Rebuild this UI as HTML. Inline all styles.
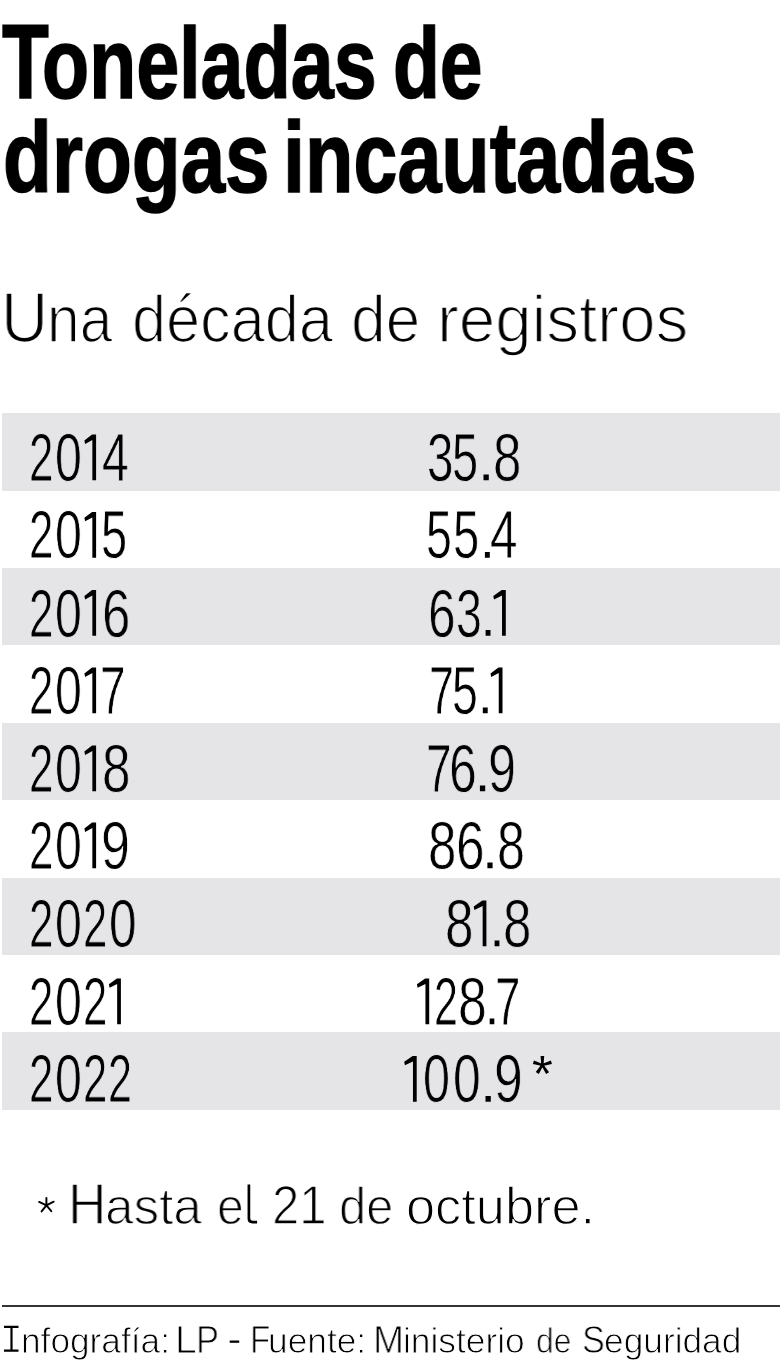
<!DOCTYPE html>
<html lang="es">
<head>
<meta charset="utf-8">
<title>Toneladas de drogas incautadas</title>
<style>
  html, body { margin: 0; padding: 0; background: #ffffff; }
  body { width: 780px; height: 1372px; position: relative; overflow: hidden;
         font-family: "Liberation Sans", sans-serif; color: #111111; }
  .t { position: absolute; white-space: nowrap; transform-origin: 0 0; line-height: 1; will-change: transform; }
  .g1 { position: absolute; overflow: visible; }
  .abs { position: absolute; }
  .dot { position: absolute; background: #000000; }
  .band { position: absolute; left: 1.8px; right: 0; height: 77.45px; background: #e5e5e8; }
  .rule { position: absolute; left: 2px; right: 0; top: 1305px; height: 2px; background: #333333; }
</style>
</head>
<body>
<div class="band" style="top:413.20px"></div>
<div class="band" style="top:568.00px"></div>
<div class="band" style="top:722.80px"></div>
<div class="band" style="top:877.60px"></div>
<div class="band" style="top:1032.40px"></div>
<div class="t" style="left:1.80px;top:9.20px;font-size:106.5px;font-weight:700;color:#000;-webkit-text-stroke:1.6px #000;transform:scaleX(0.7185)">T</div>
<div class="t" style="left:42.31px;top:13.20px;font-size:101px;font-weight:700;color:#000;-webkit-text-stroke:1.6px #000;transform:scaleX(0.7641)">oneladas</div>
<div class="t" style="left:393.12px;top:13.20px;font-size:101px;font-weight:700;color:#000;-webkit-text-stroke:1.6px #000;transform:scaleX(0.7589)">de</div>
<div class="t" style="left:2.63px;top:107.00px;font-size:101px;font-weight:700;color:#000;-webkit-text-stroke:1.6px #000;transform:scaleX(0.7915)">drogas</div>
<div class="t" style="left:283.30px;top:107.00px;font-size:101px;font-weight:700;color:#000;-webkit-text-stroke:1.6px #000;transform:scaleX(0.7838)">incautadas</div>
<div class="t" style="left:0.65px;top:283.00px;font-size:70.5px;font-weight:400;color:#000000;-webkit-text-stroke:1.7px #fff;transform:scaleX(0.9256)">U</div>
<div class="t" style="left:47.12px;top:285.00px;font-size:67px;font-weight:400;color:#000000;-webkit-text-stroke:1.7px #fff;transform:scaleX(0.8768)">na</div>
<div class="t" style="left:132.24px;top:285.00px;font-size:67px;font-weight:400;color:#000000;-webkit-text-stroke:1.7px #fff;transform:scaleX(0.9140)">década</div>
<div class="t" style="left:351.28px;top:285.00px;font-size:67px;font-weight:400;color:#000000;-webkit-text-stroke:1.7px #fff;transform:scaleX(0.9299)">de</div>
<div class="t" style="left:436.61px;top:285.00px;font-size:67px;font-weight:400;color:#000000;-webkit-text-stroke:1.7px #fff;transform:scaleX(0.9779)">registros</div>
<div class="t" style="left:67.92px;top:1175.00px;font-size:58px;font-weight:400;color:#000000;-webkit-text-stroke:1.3px #fff;transform:scaleX(0.9161)">H</div>
<div class="t" style="left:105.14px;top:1180.00px;font-size:52px;font-weight:400;color:#000000;-webkit-text-stroke:1.3px #fff;transform:scaleX(0.9851)">asta</div>
<div class="t" style="left:216.72px;top:1180.00px;font-size:52px;font-weight:400;color:#000000;-webkit-text-stroke:1.3px #fff;transform:scaleX(0.9261)">e</div>
<div class="t" style="left:271.92px;top:1178.00px;font-size:55px;font-weight:400;color:#000000;-webkit-text-stroke:1.3px #fff;transform:scaleX(0.8927)">21</div>
<div class="t" style="left:339.49px;top:1180.00px;font-size:52px;font-weight:400;color:#000000;-webkit-text-stroke:1.3px #fff;transform:scaleX(0.9365)">de</div>
<div class="t" style="left:405.98px;top:1180.00px;font-size:52px;font-weight:400;color:#000000;-webkit-text-stroke:1.3px #fff;transform:scaleX(1.0067)">octubre.</div>
<div class="t" style="left:20.68px;top:1323.30px;font-size:35px;font-weight:400;color:#000000;-webkit-text-stroke:0.9px #fff;transform:scaleX(1.0071)">nfografía:</div>
<div class="t" style="left:175.15px;top:1321.30px;font-size:38.7px;font-weight:400;color:#000000;-webkit-text-stroke:0.9px #fff;transform:scaleX(1.0125)">L</div>
<div class="t" style="left:196.44px;top:1321.30px;font-size:38.7px;font-weight:400;color:#000000;-webkit-text-stroke:0.9px #fff;transform:scaleX(0.8895)">P</div>
<div class="t" style="left:249.68px;top:1321.30px;font-size:38.7px;font-weight:400;color:#000000;-webkit-text-stroke:0.9px #fff;transform:scaleX(0.8556)">F</div>
<div class="t" style="left:268.47px;top:1323.30px;font-size:35px;font-weight:400;color:#000000;-webkit-text-stroke:0.9px #fff;transform:scaleX(1.0088)">uente:</div>
<div class="t" style="left:373.36px;top:1321.30px;font-size:38.7px;font-weight:400;color:#000000;-webkit-text-stroke:0.9px #fff;transform:scaleX(0.9600)">M</div>
<div class="t" style="left:403.17px;top:1323.30px;font-size:35px;font-weight:400;color:#000000;-webkit-text-stroke:0.9px #fff;transform:scaleX(1.0095)">inisterio</div>
<div class="t" style="left:536.49px;top:1323.30px;font-size:35px;font-weight:400;color:#000000;-webkit-text-stroke:0.9px #fff;transform:scaleX(0.9057)">de</div>
<div class="t" style="left:581.95px;top:1321.30px;font-size:38.7px;font-weight:400;color:#000000;-webkit-text-stroke:0.9px #fff;transform:scaleX(0.8850)">S</div>
<div class="t" style="left:604.18px;top:1323.30px;font-size:35px;font-weight:400;color:#000000;-webkit-text-stroke:0.9px #fff;transform:scaleX(1.0084)">eguridad</div>
<div class="t" style="left:29.23px;top:423.00px;font-size:68.2px;font-weight:400;color:#000000;-webkit-text-stroke:0.8px #e5e5e8;transform:scaleX(0.6433)">2</div>
<div class="t" style="left:54.68px;top:423.00px;font-size:68.2px;font-weight:400;color:#000000;-webkit-text-stroke:0.8px #e5e5e8;transform:scaleX(0.7063)">0</div>
<div class="t" style="left:101.89px;top:423.00px;font-size:68.2px;font-weight:400;color:#000000;-webkit-text-stroke:0.8px #e5e5e8;transform:scaleX(0.7061)">4</div>
<div class="t" style="left:426.61px;top:423.00px;font-size:68.2px;font-weight:400;color:#000000;-webkit-text-stroke:0.8px #e5e5e8;transform:scaleX(0.6968)">3</div>
<div class="t" style="left:452.24px;top:423.00px;font-size:68.2px;font-weight:400;color:#000000;-webkit-text-stroke:0.8px #e5e5e8;transform:scaleX(0.6903)">5</div>
<div class="t" style="left:492.55px;top:423.00px;font-size:68.2px;font-weight:400;color:#000000;-webkit-text-stroke:0.8px #e5e5e8;transform:scaleX(0.7484)">8</div>
<div class="t" style="left:29.23px;top:500.40px;font-size:68.2px;font-weight:400;color:#000000;-webkit-text-stroke:0.8px #fff;transform:scaleX(0.6433)">2</div>
<div class="t" style="left:54.68px;top:500.40px;font-size:68.2px;font-weight:400;color:#000000;-webkit-text-stroke:0.8px #fff;transform:scaleX(0.7063)">0</div>
<div class="t" style="left:101.24px;top:500.40px;font-size:68.2px;font-weight:400;color:#000000;-webkit-text-stroke:0.8px #fff;transform:scaleX(0.6903)">5</div>
<div class="t" style="left:426.48px;top:500.40px;font-size:68.2px;font-weight:400;color:#000000;-webkit-text-stroke:0.8px #fff;transform:scaleX(0.6806)">5</div>
<div class="t" style="left:453.23px;top:500.40px;font-size:68.2px;font-weight:400;color:#000000;-webkit-text-stroke:0.8px #fff;transform:scaleX(0.6935)">5</div>
<div class="t" style="left:490.45px;top:500.40px;font-size:68.2px;font-weight:400;color:#000000;-webkit-text-stroke:0.8px #fff;transform:scaleX(0.7273)">4</div>
<div class="t" style="left:29.23px;top:578.50px;font-size:68.2px;font-weight:400;color:#000000;-webkit-text-stroke:0.8px #e5e5e8;transform:scaleX(0.6433)">2</div>
<div class="t" style="left:54.68px;top:578.50px;font-size:68.2px;font-weight:400;color:#000000;-webkit-text-stroke:0.8px #e5e5e8;transform:scaleX(0.7063)">0</div>
<div class="t" style="left:102.01px;top:578.50px;font-size:68.2px;font-weight:400;color:#000000;-webkit-text-stroke:0.8px #e5e5e8;transform:scaleX(0.7467)">6</div>
<div class="t" style="left:428.39px;top:578.50px;font-size:68.2px;font-weight:400;color:#000000;-webkit-text-stroke:0.8px #e5e5e8;transform:scaleX(0.7267)">6</div>
<div class="t" style="left:456.06px;top:578.50px;font-size:68.2px;font-weight:400;color:#000000;-webkit-text-stroke:0.8px #e5e5e8;transform:scaleX(0.6806)">3</div>
<div class="t" style="left:29.23px;top:656.00px;font-size:68.2px;font-weight:400;color:#000000;-webkit-text-stroke:0.8px #fff;transform:scaleX(0.6433)">2</div>
<div class="t" style="left:54.68px;top:656.00px;font-size:68.2px;font-weight:400;color:#000000;-webkit-text-stroke:0.8px #fff;transform:scaleX(0.7063)">0</div>
<div class="t" style="left:100.01px;top:656.00px;font-size:68.2px;font-weight:400;color:#000000;-webkit-text-stroke:0.8px #fff;transform:scaleX(0.6733)">7</div>
<div class="t" style="left:429.37px;top:656.00px;font-size:68.2px;font-weight:400;color:#000000;-webkit-text-stroke:0.8px #fff;transform:scaleX(0.6567)">7</div>
<div class="t" style="left:451.88px;top:656.00px;font-size:68.2px;font-weight:400;color:#000000;-webkit-text-stroke:0.8px #fff;transform:scaleX(0.6806)">5</div>
<div class="t" style="left:29.23px;top:734.00px;font-size:68.2px;font-weight:400;color:#000000;-webkit-text-stroke:0.8px #e5e5e8;transform:scaleX(0.6433)">2</div>
<div class="t" style="left:54.68px;top:734.00px;font-size:68.2px;font-weight:400;color:#000000;-webkit-text-stroke:0.8px #e5e5e8;transform:scaleX(0.7063)">0</div>
<div class="t" style="left:102.25px;top:734.00px;font-size:68.2px;font-weight:400;color:#000000;-webkit-text-stroke:0.8px #e5e5e8;transform:scaleX(0.7516)">8</div>
<div class="t" style="left:426.01px;top:734.00px;font-size:68.2px;font-weight:400;color:#000000;-webkit-text-stroke:0.8px #e5e5e8;transform:scaleX(0.6733)">7</div>
<div class="t" style="left:448.78px;top:734.00px;font-size:68.2px;font-weight:400;color:#000000;-webkit-text-stroke:0.8px #e5e5e8;transform:scaleX(0.7300)">6</div>
<div class="t" style="left:488.24px;top:734.00px;font-size:68.2px;font-weight:400;color:#000000;-webkit-text-stroke:0.8px #e5e5e8;transform:scaleX(0.7400)">9</div>
<div class="t" style="left:29.23px;top:811.00px;font-size:68.2px;font-weight:400;color:#000000;-webkit-text-stroke:0.8px #fff;transform:scaleX(0.6433)">2</div>
<div class="t" style="left:54.68px;top:811.00px;font-size:68.2px;font-weight:400;color:#000000;-webkit-text-stroke:0.8px #fff;transform:scaleX(0.7063)">0</div>
<div class="t" style="left:101.45px;top:811.00px;font-size:68.2px;font-weight:400;color:#000000;-webkit-text-stroke:0.8px #fff;transform:scaleX(0.7633)">9</div>
<div class="t" style="left:428.35px;top:811.00px;font-size:68.2px;font-weight:400;color:#000000;-webkit-text-stroke:0.8px #fff;transform:scaleX(0.7484)">8</div>
<div class="t" style="left:455.79px;top:811.00px;font-size:68.2px;font-weight:400;color:#000000;-webkit-text-stroke:0.8px #fff;transform:scaleX(0.7533)">6</div>
<div class="t" style="left:496.79px;top:811.00px;font-size:68.2px;font-weight:400;color:#000000;-webkit-text-stroke:0.8px #fff;transform:scaleX(0.7355)">8</div>
<div class="t" style="left:29.23px;top:889.00px;font-size:68.2px;font-weight:400;color:#000000;-webkit-text-stroke:0.8px #e5e5e8;transform:scaleX(0.6433)">2</div>
<div class="t" style="left:54.68px;top:889.00px;font-size:68.2px;font-weight:400;color:#000000;-webkit-text-stroke:0.8px #e5e5e8;transform:scaleX(0.7063)">0</div>
<div class="t" style="left:83.34px;top:889.00px;font-size:68.2px;font-weight:400;color:#000000;-webkit-text-stroke:0.8px #e5e5e8;transform:scaleX(0.6400)">2</div>
<div class="t" style="left:108.83px;top:889.00px;font-size:68.2px;font-weight:400;color:#000000;-webkit-text-stroke:0.8px #e5e5e8;transform:scaleX(0.7250)">0</div>
<div class="t" style="left:444.65px;top:889.00px;font-size:68.2px;font-weight:400;color:#000000;-webkit-text-stroke:0.8px #e5e5e8;transform:scaleX(0.7516)">8</div>
<div class="t" style="left:503.25px;top:889.00px;font-size:68.2px;font-weight:400;color:#000000;-webkit-text-stroke:0.8px #e5e5e8;transform:scaleX(0.7484)">8</div>
<div class="t" style="left:29.23px;top:966.90px;font-size:68.2px;font-weight:400;color:#000000;-webkit-text-stroke:0.8px #fff;transform:scaleX(0.6433)">2</div>
<div class="t" style="left:54.68px;top:966.90px;font-size:68.2px;font-weight:400;color:#000000;-webkit-text-stroke:0.8px #fff;transform:scaleX(0.7063)">0</div>
<div class="t" style="left:83.34px;top:966.90px;font-size:68.2px;font-weight:400;color:#000000;-webkit-text-stroke:0.8px #fff;transform:scaleX(0.6400)">2</div>
<div class="t" style="left:434.38px;top:966.90px;font-size:68.2px;font-weight:400;color:#000000;-webkit-text-stroke:0.8px #fff;transform:scaleX(0.6300)">2</div>
<div class="t" style="left:457.73px;top:966.90px;font-size:68.2px;font-weight:400;color:#000000;-webkit-text-stroke:0.8px #fff;transform:scaleX(0.7581)">8</div>
<div class="t" style="left:495.03px;top:966.90px;font-size:68.2px;font-weight:400;color:#000000;-webkit-text-stroke:0.8px #fff;transform:scaleX(0.6667)">7</div>
<div class="t" style="left:29.23px;top:1044.40px;font-size:68.2px;font-weight:400;color:#000000;-webkit-text-stroke:0.8px #e5e5e8;transform:scaleX(0.6433)">2</div>
<div class="t" style="left:54.68px;top:1044.40px;font-size:68.2px;font-weight:400;color:#000000;-webkit-text-stroke:0.8px #e5e5e8;transform:scaleX(0.7063)">0</div>
<div class="t" style="left:83.34px;top:1044.40px;font-size:68.2px;font-weight:400;color:#000000;-webkit-text-stroke:0.8px #e5e5e8;transform:scaleX(0.6400)">2</div>
<div class="t" style="left:107.98px;top:1044.40px;font-size:68.2px;font-weight:400;color:#000000;-webkit-text-stroke:0.8px #e5e5e8;transform:scaleX(0.6300)">2</div>
<div class="t" style="left:423.17px;top:1044.40px;font-size:68.2px;font-weight:400;color:#000000;-webkit-text-stroke:0.8px #e5e5e8;transform:scaleX(0.7094)">0</div>
<div class="t" style="left:452.82px;top:1044.40px;font-size:68.2px;font-weight:400;color:#000000;-webkit-text-stroke:0.8px #e5e5e8;transform:scaleX(0.7281)">0</div>
<div class="t" style="left:493.97px;top:1044.40px;font-size:68.2px;font-weight:400;color:#000000;-webkit-text-stroke:0.8px #e5e5e8;transform:scaleX(0.7567)">9</div>
<svg class="abs" style="left:0;top:0" width="780" height="1372"><path d="M96.10 434.50 L96.10 480.30 L92.35 480.30 L92.35 440.10 L85.10 443.90 L84.40 440.40 L92.05 434.50 Z M96.10 511.90 L96.10 557.70 L92.35 557.70 L92.35 517.50 L85.10 521.30 L84.40 517.80 L92.05 511.90 Z M96.10 590.00 L96.10 635.80 L92.35 635.80 L92.35 595.60 L85.10 599.40 L84.40 595.90 L92.05 590.00 Z M505.80 590.00 L505.80 635.80 L502.05 635.80 L502.05 595.60 L494.00 599.40 L493.30 595.90 L501.75 590.00 Z M96.10 667.50 L96.10 713.30 L92.35 713.30 L92.35 673.10 L85.10 676.90 L84.40 673.40 L92.05 667.50 Z M502.50 667.50 L502.50 713.30 L498.75 713.30 L498.75 673.10 L491.20 676.90 L490.50 673.40 L498.45 667.50 Z M96.10 745.50 L96.10 791.30 L92.35 791.30 L92.35 751.10 L85.10 754.90 L84.40 751.40 L92.05 745.50 Z M96.10 822.50 L96.10 868.30 L92.35 868.30 L92.35 828.10 L85.10 831.90 L84.40 828.40 L92.05 822.50 Z M486.40 900.50 L486.40 946.30 L482.65 946.30 L482.65 906.10 L474.40 909.90 L473.70 906.40 L482.35 900.50 Z M120.90 978.40 L120.90 1024.20 L117.15 1024.20 L117.15 984.00 L109.60 987.80 L108.90 984.30 L116.85 978.40 Z M429.20 978.40 L429.20 1024.20 L425.45 1024.20 L425.45 984.00 L417.60 987.80 L416.90 984.30 L425.15 978.40 Z M416.70 1055.90 L416.70 1101.70 L412.95 1101.70 L412.95 1061.50 L404.90 1065.30 L404.20 1061.80 L412.65 1055.90 Z M483.50 474.50 H488.80 V480.30 H483.50 Z M484.90 551.90 H489.80 V557.70 H484.90 Z M485.60 630.00 H490.50 V635.80 H485.60 Z M482.80 707.50 H487.70 V713.30 H482.80 Z M479.90 785.50 H485.20 V791.30 H479.90 Z M487.40 862.50 H492.60 V868.30 H487.40 Z M494.60 940.50 H499.40 V946.30 H494.60 Z M489.70 1018.40 H494.30 V1024.20 H489.70 Z M485.50 1095.90 H490.80 V1101.70 H485.50 Z" fill="#000000"/></svg>
<svg class="abs" style="left:0;top:0" width="780" height="1372"><path d="M543.55 1065.00 L544.20 1055.90 L540.60 1055.90 L541.25 1065.00 Z M542.73 1063.90 L533.92 1060.58 L532.88 1064.02 L542.07 1066.10 Z M542.74 1066.10 L551.93 1063.92 L550.87 1060.48 L542.06 1063.90 Z M541.43 1064.38 L535.78 1072.03 L538.82 1073.97 L543.37 1065.62 Z M541.43 1065.62 L546.09 1074.07 L549.11 1072.13 L543.37 1064.38 Z" fill="#000000"/><path d="M46.4 1205.4 L46.4 1198.0 M46.4 1205.4 L39.1 1201.9 M46.4 1205.4 L53.7 1201.7 M46.4 1205.4 L41.6 1211.4 M46.4 1205.4 L51.3 1211.2" stroke="#000000" stroke-width="1.95" fill="none" stroke-linecap="round"/><path d="M248.9 1184.6 V1218.6 Q248.9 1222.1 252.4 1222.1 H257.1" stroke="#000000" stroke-width="2.7" fill="none"/><path d="M4 1325.8 H18.5 V1327.9 H12.6 V1349.6 H18.5 V1351.7 H4 V1349.6 H10.4 V1327.9 H4 Z" fill="#000000"/><rect x="229.7" y="1340.5" width="9.5" height="2.3" fill="#000000"/></svg>
<div class="rule"></div>
</body>
</html>
